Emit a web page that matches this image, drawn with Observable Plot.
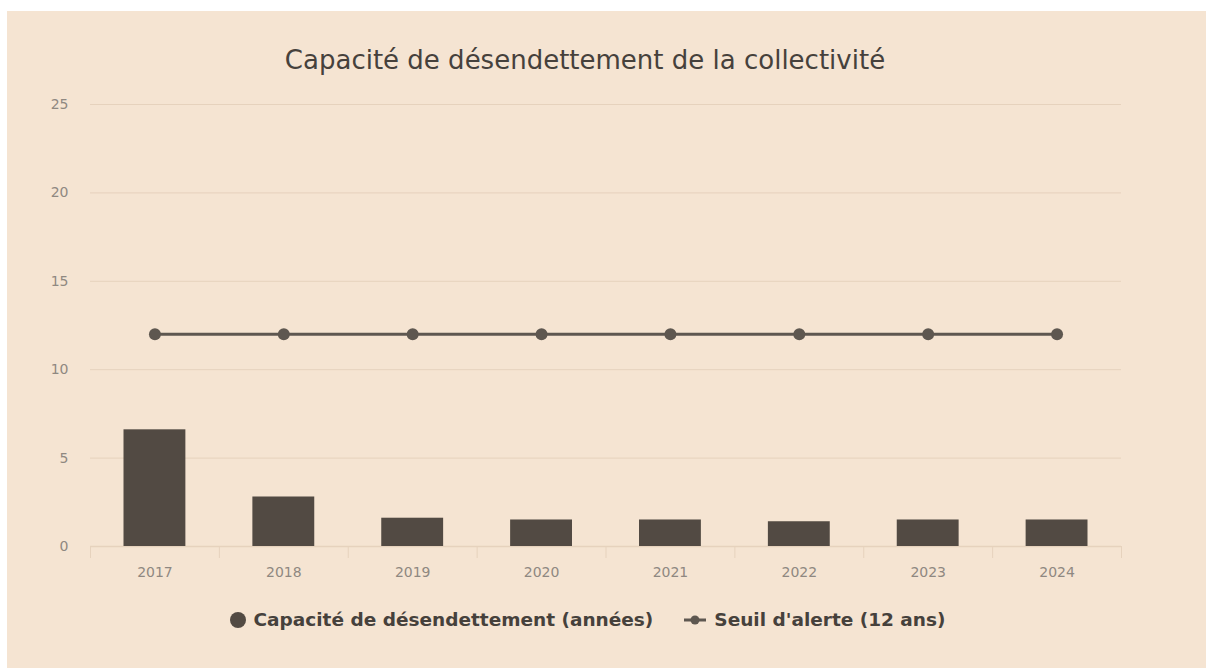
<!DOCTYPE html>
<html>
<head>
<meta charset="utf-8">
<script src="https://cdn.jsdelivr.net/npm/d3@7"></script>
<script src="https://cdn.jsdelivr.net/npm/@observablehq/plot@0.6"></script>
<style>
  html, body { margin: 0; padding: 0; background: #ffffff; width: 1206px; height: 668px; overflow: hidden; }
  #panel { position: absolute; left: 7px; top: 11px; width: 1199px; height: 657px; background: #f5e4d2; font-family: "DejaVu Sans", sans-serif; }
  #title { position: absolute; left: 0; top: 33px; width: 1156px; text-align: center; font-size: 26px; line-height: 32px; color: #46413c; }
  #chart { position: absolute; left: 0; top: 79px; }
  #legend { position: absolute; left: 0; top: 597px; width: 1160px; display: flex; justify-content: center; align-items: center; font-size: 18.5px; font-weight: bold; color: #46413c; line-height: 24px; }
  .item { display: flex; align-items: center; margin: 0 15px; }
  .item svg { margin-right: 7px; }
</style>
</head>
<body>
<div id="panel">
  <div id="title">Capacité de désendettement de la collectivité</div>
  <div id="chart"></div>
  <div id="legend">
    <div class="item"><svg width="18" height="18"><circle cx="9" cy="9" r="8" fill="#524a43"></circle></svg>Capacité de désendettement (années)</div>
    <div class="item"><svg width="24" height="14"><line x1="1" y1="7" x2="23" y2="7" stroke="#5e5750" stroke-width="3"></line><circle cx="12" cy="7" r="4.5" fill="#5e5750"></circle></svg>Seuil d'alerte (12 ans)</div>
  </div>
</div>
<script>
const years = [2017, 2018, 2019, 2020, 2021, 2022, 2023, 2024];
const capacite = [6.6, 2.8, 1.6, 1.5, 1.5, 1.4, 1.5, 1.5];
const seuil = [12, 12, 12, 12, 12, 12, 12, 12];
const yTicks = [0, 5, 10, 15, 20, 25];

const bars = years.map((y, i) => ({year: y, value: capacite[i]}));
const line = years.map((y, i) => ({year: y, value: seuil[i]}));
const boundaries = [years[0] - 0.5, ...years.map(y => y + 0.5)];

const gridColor = "#e6d2bd";
const labelColor = "#8f8881";

const chart = Plot.plot({
  width: 1199,
  height: 496,
  marginLeft: 83,
  marginRight: 85,
  marginTop: 14,
  marginBottom: 40,
  style: { background: "transparent", fontFamily: "DejaVu Sans, sans-serif" },
  x: { type: "linear", domain: [years[0] - 0.5, years[years.length - 1] + 0.5] },
  y: { domain: [0, 25] },
  marks: [
    Plot.gridY(yTicks.filter(d => d > 0), { stroke: gridColor, strokeOpacity: 1, strokeWidth: 1 }),
    Plot.axisY(yTicks, { tickSize: 0, tickPadding: 22, fontSize: 14, color: labelColor, label: null }),
    Plot.axisX(boundaries, { tickSize: 12, tickFormat: () => "", stroke: gridColor, label: null }),
    Plot.axisX(years, { tickSize: 0, tickPadding: 21, tickFormat: d => String(d), fontSize: 14, color: labelColor, label: null }),
    Plot.ruleY([0], { stroke: gridColor, strokeWidth: 1.5 }),
    Plot.rectY(bars, { x1: d => d.year - 0.5, x2: d => d.year + 0.5, y: "value", insetLeft: 33.5, insetRight: 33.5, fill: "#524a43" }),
    Plot.lineY(line, { x: "year", y: "value", stroke: "#5e5750", strokeWidth: 3 }),
    Plot.dot(line, { x: "year", y: "value", r: 6, fill: "#5e5750" })
  ]
});
document.getElementById("chart").appendChild(chart);
</script>
</body>
</html>
